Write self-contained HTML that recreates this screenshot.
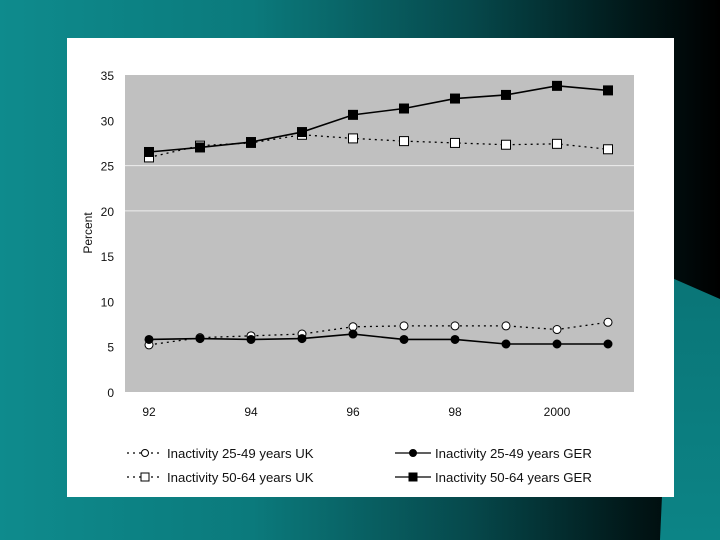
<!DOCTYPE html>
<html><head><meta charset="utf-8"><style>
body{margin:0;width:720px;height:540px;overflow:hidden;background:linear-gradient(90deg,#0e8b8d 0%,#0b7a7c 35%,#06494c 65%,#011718 88%,#000 100%);font-family:"Liberation Sans",sans-serif}
#panel{position:absolute;left:67px;top:38px;width:607px;height:459px;background:#fff}
svg{position:absolute;left:0;top:0}
</style></head><body>
<div style="position:absolute;left:660px;top:278px;width:60px;height:262px;background:linear-gradient(180deg,#0a7577,#0c8486);clip-path:polygon(20% 0,100% 8%,100% 100%,0 100%)"></div>
<div id="panel"></div>
<svg id="chart" width="720" height="540"></svg>
<script>
const years=["92","93","94","95","96","97","98","99","2000","01"];
const xTicks=["92","94","96","98","2000"];
const yTicks=[0,5,10,15,20,25,30,35];
const ukYoung=[5.2,6.0,6.2,6.4,7.2,7.3,7.3,7.3,6.9,7.7];
const gerYoung=[5.8,5.9,5.8,5.9,6.4,5.8,5.8,5.3,5.3,5.3];
const ukOld=[25.9,27.2,27.5,28.4,28.0,27.7,27.5,27.3,27.4,26.8];
const gerOld=[26.5,27.0,27.6,28.7,30.6,31.3,32.4,32.8,33.8,33.3];
const NS="http://www.w3.org/2000/svg",svg=document.getElementById('chart');
const X0=125,X1=634,Y0=392,Y1=75;
const xs=i=>149+i*51, ys=v=>Y0-(v/35)*(Y0-Y1);
function mk(t,a,p){const e=document.createElementNS(NS,t);for(const k in a)e.setAttribute(k,a[k]);(p||svg).appendChild(e);return e;}
const bg=mk('rect',{x:X0,y:Y1,width:X1-X0,height:Y0-Y1,fill:'#c0c0c0'});


[20,25].forEach(v=>{const l=mk('line',{x1:X0,x2:X1,y1:ys(v),y2:ys(v),stroke:'#eee','stroke-width':1});

});
yTicks.forEach(v=>{const t=mk('text',{x:114,y:ys(v)+5,'text-anchor':'end','font-size':12,fill:'#111'});t.textContent=v;

});
xTicks.forEach(s=>{const i=years.indexOf(s);const t=mk('text',{x:xs(i),y:416,'text-anchor':'middle','font-size':12,fill:'#111'});t.textContent=s;

});
const yt=mk('text',{x:0,y:0,transform:'translate(92,233) rotate(-90)','text-anchor':'middle','font-size':12,fill:'#111'});yt.textContent='Percent';


function series(data,dash,shape,fill,name){
 const g=mk('g',{});
 
 
 mk('polyline',{points:data.map((v,i)=>xs(i)+','+ys(v)).join(' '),fill:'none',stroke:'#000','stroke-width':dash?1.3:1.6,'stroke-dasharray':dash?'2,4':'none'},g);
 data.forEach((v,i)=>{let m;
  if(shape==='c')m=mk('circle',{cx:xs(i),cy:ys(v),r:4,fill:fill,stroke:'#000','stroke-width':1},g);
  else m=mk('rect',{x:xs(i)-4.5,y:ys(v)-4.5,width:9,height:9,fill:fill,stroke:'#000','stroke-width':1},g);
  
  });
}
series(ukOld,true,'s','#fff','series-uk-50-64');
series(gerOld,false,'s','#000','series-ger-50-64');
series(ukYoung,true,'c','#fff','series-uk-25-49');
series(gerYoung,false,'c','#000','series-ger-25-49');
const leg=[["Inactivity 25-49 years UK",true,'c','#fff',127,453],["Inactivity 25-49 years GER",false,'c','#000',395,453],["Inactivity 50-64 years UK",true,'s','#fff',127,477],["Inactivity 50-64 years GER",false,'s','#000',395,477]];
leg.forEach(l=>{const g=mk('g',{});
 
 
 mk('line',{x1:l[4],x2:l[4]+36,y1:l[5],y2:l[5],stroke:'#000','stroke-width':1.3,'stroke-dasharray':l[1]?'2,4':'none'},g);
 if(l[2]==='c')mk('circle',{cx:l[4]+18,cy:l[5],r:3.5,fill:l[3],stroke:'#000'},g);
 else mk('rect',{x:l[4]+14,y:l[5]-4,width:8,height:8,fill:l[3],stroke:'#000'},g);
 const t=mk('text',{x:l[4]+40,y:l[5]+5,'font-size':13.2,fill:'#111'},g);t.textContent=l[0];});
</script>
</body></html>
